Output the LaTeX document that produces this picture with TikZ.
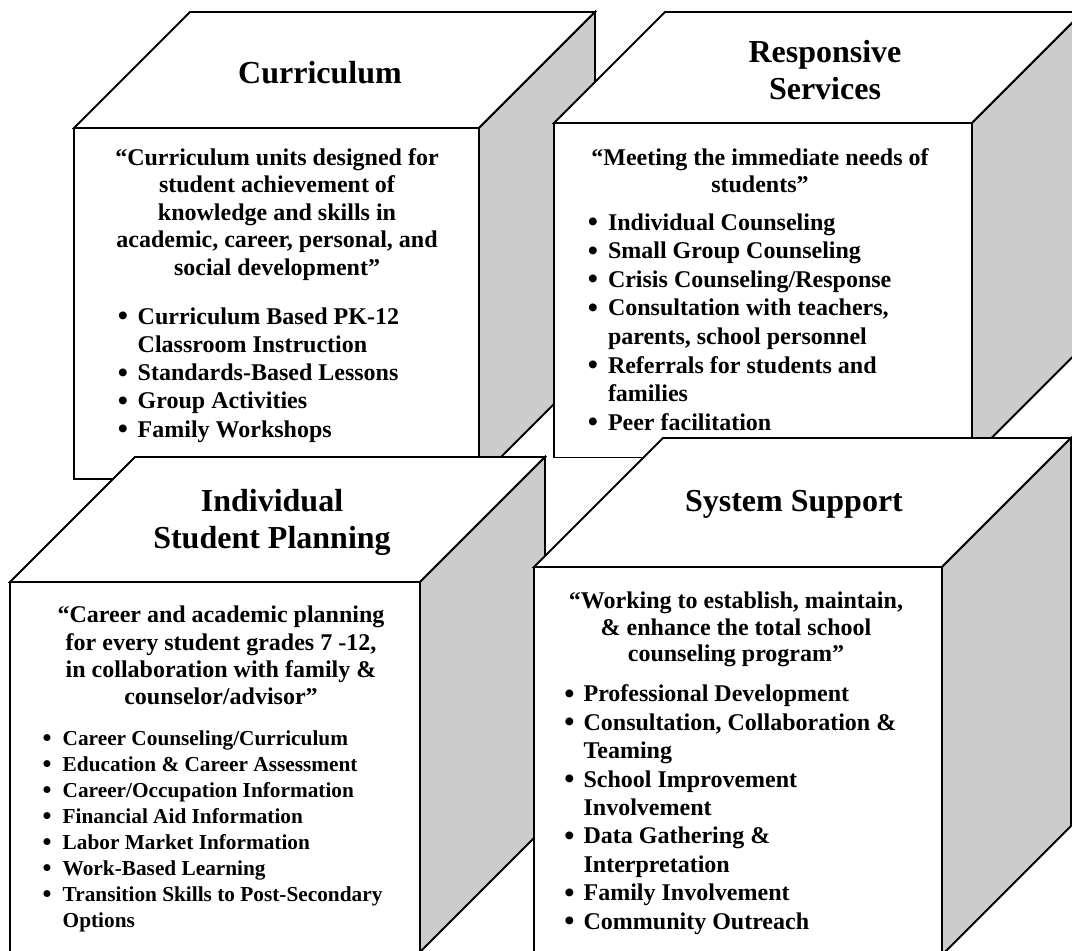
\documentclass[tikz,border=0pt]{standalone}
\usepackage{fontspec}
\setmainfont{Liberation Serif}
\usepackage{tikz}
\definecolor{sidegray}{RGB}{204,204,204}

% front top-left x, y, width, height, depth
\newcommand{\drawcube}[5]{%
\draw[facebox] (#1,#2) rectangle ++(#3,#4);
\draw[facebox] (#1,#2) -- ++(#5,-#5) -- ++(#3,0) -- ++(-#5,#5) -- cycle;
\draw[sidebox] (#1+#3,#2) -- ++(#5,-#5) -- ++(0,#4) -- ++(-#5,#5) -- cycle;
}

\begin{document}
\begin{tikzpicture}
[x=1pt, y=-1pt,
facebox/.style ={draw=black, line width=1.8pt, fill=white, line join=miter},
sidebox/.style ={facebox, fill=sidegray},
headtxt/.style ={inner sep=0pt, anchor=base, font=\fontsize{32}{37}\selectfont\bfseries},
quotetxt/.style ={inner sep=0pt, anchor=base, font=\fontsize{24}{28}\selectfont\bfseries},
itemtxt/.style ={inner sep=0pt, anchor=base west, font=\fontsize{24}{28}\selectfont\bfseries},
smalltxt/.style ={itemtxt, font=\fontsize{21.3}{26}\selectfont\bfseries},
dottxt/.style ={inner sep=0pt, anchor=base, yshift=-1.5pt, font=\fontsize{29}{30}\selectfont\bfseries},
]
\useasboundingbox (0,0) rectangle (1072,951);
\clip (0,0) rectangle (1072,951);

% cube 1
\drawcube{74}{128}{405}{351}{116}
\node[headtxt] (cur) at (320,83) {Curriculum};
\foreach \t [count=\i] in {“Curriculum units designed for,student achievement of,knowledge and skills in,{academic, career, personal, and},social development”}
  \node[quotetxt] (curq\i) at (277,137.4+27.6*\i) {\t};
\foreach \b/\t [count=\i] in {1/Curriculum Based PK-12,0/Classroom Instruction,1/Standards-Based Lessons,1/Group Activities,1/Family Workshops}
{
  \node[itemtxt] (curi\i) at (137.5,295.7+28.3*\i) {\t};
  \ifnum\b=1 \node[dottxt] (curd\i) at (123,295.7+28.3*\i) {\textbullet}; \fi
}

% cube 2
\drawcube{554}{123}{418}{334.5}{111}
\node[headtxt] (res1) at (825,62.5) {Responsive};
\node[headtxt] (res2) at (825,99) {Services};
\node[quotetxt] (resq1) at (760,165) {“Meeting the immediate needs of};
\node[quotetxt] (resq2) at (760,192.7) {students”};
\foreach \b/\t [count=\i] in {1/Individual Counseling,1/Small Group Counseling,1/{Crisis Counseling/Response},{1/Consultation with teachers,},{0/parents, school personnel},1/Referrals for students and,0/families,1/Peer facilitation}
{
  \node[itemtxt] (resi\i) at (607.8,201.4+28.6*\i) {\t};
  \ifnum\b=1 \node[dottxt] (resd\i) at (593,201.4+28.6*\i) {\textbullet}; \fi
}

% cube 3
\drawcube{10}{582}{410}{370}{125}
\node[headtxt] (isp1) at (272,511.7) {Individual};
\node[headtxt] (isp2) at (272,548.3) {Student Planning};
\foreach \t [count=\i] in {“Career and academic planning,{for every student grades 7 -12,},in collaboration with family \&,counselor/advisor”}
  \node[quotetxt] (ispq\i) at (221,595.3+27.4*\i) {\t};
\foreach \b/\t [count=\i] in {1/{Career Counseling/Curriculum},1/Education \& Career Assessment,1/{Career/Occupation Information},1/Financial Aid Information,1/Labor Market Information,1/Work-Based Learning,1/Transition Skills to Post-Secondary,0/Options}
{
  \node[smalltxt] (ispi\i) at (62.5,719+26*\i) {\t};
  \ifnum\b=1 \node[dottxt, yshift=0.5pt, font=\fontsize{25.5}{26}\selectfont\bfseries] (ispd\i) at (47,719+26*\i) {\textbullet}; \fi
}

% cube 4
\drawcube{534}{567}{408}{388}{129}
\node[headtxt] (sys) at (794,511.7) {System Support};
\begin{scope}
\clip (534,567) rectangle (942,666.5);
\foreach \t [count=\i] in {{“Working to establish, maintain,},\& enhance the total school,counseling program”}
  \node[quotetxt] (sysq\i) at (736,581.6+26.7*\i) {\t};
\end{scope}
\foreach \b/\t [count=\i] in {1/Professional Development,{1/Consultation, Collaboration \&},0/Teaming,1/School Improvement,0/Involvement,1/Data Gathering \&,0/Interpretation,1/Family Involvement,1/Community Outreach}
{
  \node[itemtxt] (sysi\i) at (583.4,673.25+28.45*\i) {\t};
  \ifnum\b=1 \node[dottxt] (sysd\i) at (569.5,673.25+28.45*\i) {\textbullet}; \fi
}
\end{tikzpicture}
\end{document}
